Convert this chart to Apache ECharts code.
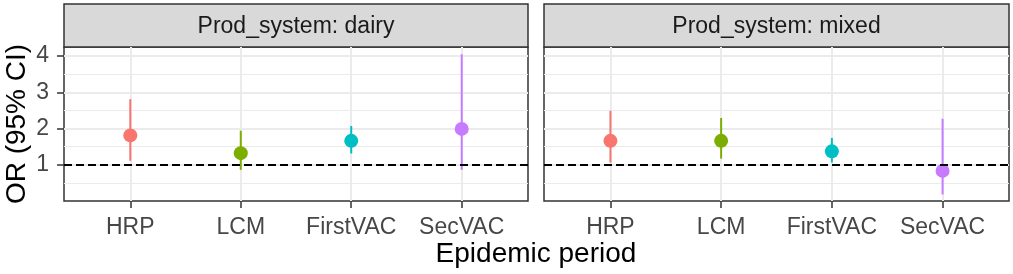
<!DOCTYPE html>
<html>
<head>
<meta charset="utf-8">
<script src="https://cdn.jsdelivr.net/npm/echarts@6/dist/echarts.min.js"></script>
<style>
  html, body { margin: 0; padding: 0; background: #fff; }
  #chart { width: 1013px; height: 274px; }
</style>
</head>
<body>
<div id="chart"></div>
<script>
const categories = ['HRP', 'LCM', 'FirstVAC', 'SecVAC'];
const catColors = ['#F8766D', '#7CAE00', '#00BFC4', '#C77CFF'];
const panelNames = ['Prod_system: dairy', 'Prod_system: mixed'];

const dairyOR = [1.81, 1.32, 1.66, 1.99];
const dairyLower = [1.11, 0.86, 1.31, 0.86];
const dairyUpper = [2.81, 1.94, 2.07, 4.05];

const mixedOR = [1.66, 1.66, 1.37, 0.83];
const mixedLower = [1.06, 1.17, 1.06, 0.18];
const mixedUpper = [2.49, 2.29, 1.74, 2.27];

const yTicks = [1, 2, 3, 4];
const refLine = 1;

const font = 'Liberation Sans, Arial, sans-serif';
const panels = [
  { left: 64, width: 464, or: dairyOR, lo: dairyLower, hi: dairyUpper },
  { left: 544, width: 465, or: mixedOR, lo: mixedLower, hi: mixedUpper },
];
const panelTop = 47, panelHeight = 154;

const chart = echarts.init(document.getElementById('chart'));

const grids = panels.map((p) => ({
  left: p.left, top: panelTop, width: p.width, height: panelHeight,
  show: true, borderColor: '#333333', borderWidth: 1.5, backgroundColor: '#fff',
  outerBoundsMode: 'none',
}));

const xAxes = panels.map((p, i) => ({
  type: 'value', gridIndex: i, min: 0.4, max: 4.6,
  axisLine: { show: false, onZero: false },
  axisTick: { show: true, length: 7, customValues: [1, 2, 3, 4], lineStyle: { color: '#333333', width: 1.5 } },
  axisLabel: {
    customValues: [1, 2, 3, 4], margin: 15,
    formatter: (v) => categories[Math.round(v) - 1] || '',
    color: '#474747', fontSize: 23, fontFamily: font,
  },
  splitLine: { show: true, lineStyle: { color: '#EBEBEB', width: 2 } },
}));

const yAxes = panels.map((p, i) => ({
  type: 'value', gridIndex: i, min: 0, max: 4.25, interval: 1,
  name: i === 0 ? 'OR (95% CI)' : '',
  nameLocation: 'middle', nameRotate: 90, nameGap: 33,
  nameTextStyle: { color: '#000', fontSize: 28, fontFamily: font },
  axisLine: { show: false, onZero: false },
  axisTick: { show: i === 0, length: 7, customValues: yTicks, lineStyle: { color: '#333333', width: 1.5 } },
  axisLabel: {
    show: i === 0, customValues: yTicks, margin: 15,
    color: '#474747', fontSize: 23, fontFamily: font,
  },
  splitLine: { show: true, lineStyle: { color: '#EBEBEB', width: 2 } },
  minorTick: { show: false, splitNumber: 2 },
  minorSplitLine: { show: true, lineStyle: { color: '#EBEBEB', width: 1.2 } },
}));

const series = [];
panels.forEach((p, i) => {
  series.push({
    type: 'custom', xAxisIndex: i, yAxisIndex: i, silent: true, clip: false, z: 3,
    data: categories.map((c, k) => [k + 1, p.lo[k], p.hi[k]]),
    renderItem: (params, api) => {
      const a = api.coord([api.value(0), api.value(1)]);
      const b = api.coord([api.value(0), api.value(2)]);
      return {
        type: 'line',
        shape: { x1: a[0], y1: a[1], x2: b[0], y2: b[1] },
        style: { stroke: catColors[params.dataIndex], lineWidth: 2 },
      };
    },
  });
  series.push({
    type: 'scatter', xAxisIndex: i, yAxisIndex: i, silent: true, z: 4,
    symbolSize: 14,
    data: categories.map((c, k) => ({ value: [k + 1, p.or[k]], itemStyle: { color: catColors[k], opacity: 1 } })),
    markLine: {
      silent: true, symbol: 'none', label: { show: false },
      lineStyle: { color: '#000', type: [8, 4], width: 1.8 },
      data: [{ yAxis: refLine }],
    },
  });
});

const graphics = [];
panels.forEach((p, i) => {
  graphics.push({
    type: 'rect', shape: { x: p.left, y: 4, width: p.width, height: panelTop - 4 },
    style: { fill: '#D9D9D9', stroke: '#333333', lineWidth: 1.5 },
  });
  graphics.push({
    type: 'text', x: p.left + p.width / 2, y: (4 + panelTop) / 2 + 1,
    style: { text: panelNames[i], fill: '#1A1A1A', fontSize: 23, fontFamily: font, align: 'center', verticalAlign: 'middle' },
  });
});
graphics.push({
  type: 'text', x: 536, y: 254,
  style: { text: 'Epidemic period', fill: '#000', fontSize: 28, fontFamily: font, align: 'center', verticalAlign: 'middle' },
});

chart.setOption({
  animation: false,
  grid: grids,
  xAxis: xAxes,
  yAxis: yAxes,
  series: series,
  graphic: graphics,
});
</script>
</body>
</html>
